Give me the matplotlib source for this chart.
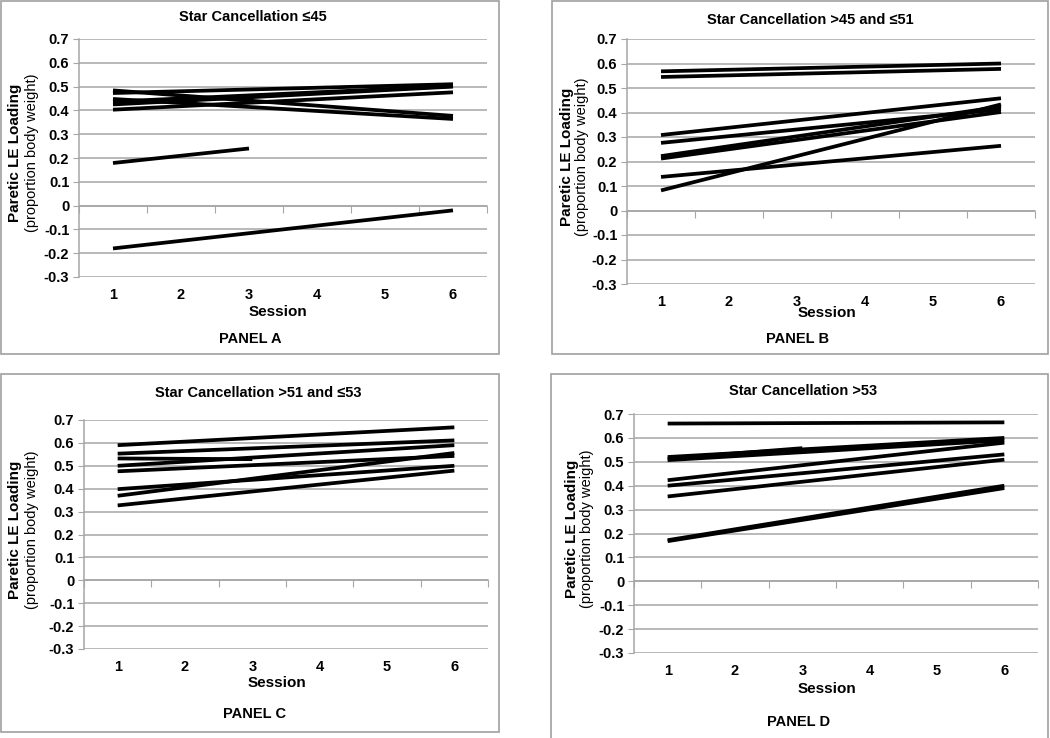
import matplotlib
matplotlib.use("Agg")
import matplotlib.pyplot as plt
from matplotlib.patches import Rectangle

plt.rcParams['font.family'] = ['Liberation Sans', 'DejaVu Sans']

W, H = 1050, 738

# ---- data: sessions and paretic LE loading per subject ----
sessions_full = [1, 6]
sessions_short = [1, 3]

panel_a_lines = [[0.484, 0.377], [0.448, 0.364], [0.473, 0.510], [0.437, 0.502],
                 [0.425, 0.500], [0.403, 0.476], [-0.180, -0.020]]
panel_a_short = [[0.179, 0.240]]

panel_b_lines = [[0.568, 0.600], [0.545, 0.578], [0.308, 0.458], [0.276, 0.413],
                 [0.222, 0.424], [0.212, 0.402], [0.137, 0.264], [0.082, 0.433]]
panel_b_short = []

panel_c_lines = [[0.590, 0.668], [0.553, 0.611], [0.500, 0.590], [0.476, 0.543],
                 [0.398, 0.500], [0.369, 0.556], [0.327, 0.479]]
panel_c_short = [[0.532, 0.529]]

panel_d_lines = [[0.660, 0.665], [0.520, 0.600], [0.507, 0.590], [0.423, 0.580],
                 [0.400, 0.531], [0.355, 0.509], [0.172, 0.400], [0.168, 0.390]]
panel_d_short = [[0.513, 0.557]]

titles = ["Star Cancellation \u226445", "Star Cancellation >45 and \u226451",
          "Star Cancellation >51 and \u226453", "Star Cancellation >53"]
panel_names = ["PANEL A", "PANEL B", "PANEL C", "PANEL D"]
y_ticks = [-0.3, -0.2, -0.1, 0, 0.1, 0.2, 0.3, 0.4, 0.5, 0.6, 0.7]
y_tick_labels = ["-0.3", "-0.2", "-0.1", "0", "0.1", "0.2", "0.3", "0.4", "0.5", "0.6", "0.7"]
x_ticks = [1, 2, 3, 4, 5, 6]

# ---- layout in pixels (left, top, right, bottom) ----
boxes = [(1, 1, 499, 354), (552, 1, 1048, 354), (1, 374, 499, 732), (551, 374, 1048, 740)]
axes_px = [(79, 39, 487, 277), (627, 39, 1035, 284), (84, 420, 488, 649), (634, 414, 1038, 653)]
title_xy = [(253, 17), (810, 20), (258, 393), (803, 391)]
session_xy = [(278, 312), (827, 313), (277, 683), (827, 689)]
panel_xy = [(250, 339), (798, 339), (255, 714), (799, 722)]
ylab_x = [(15, 32), (567, 582), (15, 32), (572, 587)]
all_lines = [panel_a_lines, panel_b_lines, panel_c_lines, panel_d_lines]
all_short = [panel_a_short, panel_b_short, panel_c_short, panel_d_short]

GRID = '#a6a6a6'
fig = plt.figure(figsize=(W / 100, H / 100), dpi=100)


def fx(px):
    return px / W


def fy(py):
    return 1 - py / H


for i in range(4):
    bl, bt, br, bb = boxes[i]
    fig.patches.append(Rectangle((fx(bl), fy(bb)), fx(br - bl), (bb - bt) / H,
                                 transform=fig.transFigure, fill=False,
                                 edgecolor='#a0a0a0', linewidth=1.2))

    l, t, r, b = axes_px[i]
    ax = fig.add_axes([fx(l), fy(b), fx(r - l), (b - t) / H])
    for ys in all_lines[i]:
        ax.plot(sessions_full, ys, color='black', lw=2.7, solid_capstyle='butt')
    for ys in all_short[i]:
        ax.plot(sessions_short, ys, color='black', lw=2.7, solid_capstyle='butt')

    ax.set_xlim(0.5, 6.5)
    ax.set_ylim(-0.3, 0.7)
    ax.set_yticks(y_ticks)
    ax.set_yticklabels(y_tick_labels, fontsize=10.5, fontweight='bold')
    ax.yaxis.grid(True, color=GRID, lw=1.1)
    ax.set_axisbelow(True)
    ax.tick_params(axis='y', length=4, color=GRID, pad=3)

    for s in ['top', 'right']:
        ax.spines[s].set_visible(False)
    ax.spines['left'].set_color(GRID)
    ax.spines['left'].set_linewidth(1.1)
    ax.spines['bottom'].set_position(('data', 0))
    ax.spines['bottom'].set_color(GRID)
    ax.spines['bottom'].set_linewidth(1.1)
    ax.set_xticks([0.5, 1.5, 2.5, 3.5, 4.5, 5.5, 6.5])
    ax.set_xticklabels([])
    ax.tick_params(axis='x', length=5, color=GRID, direction='out')

    sec = ax.secondary_xaxis(0.0)
    sec.set_xticks(x_ticks)
    sec.set_xticklabels([str(v) for v in x_ticks], fontsize=10.5, fontweight='bold')
    sec.tick_params(length=0, pad=8)
    sec.spines['bottom'].set_visible(False)

    fig.text(fx(title_xy[i][0]), fy(title_xy[i][1]), titles[i], ha='center', va='center',
             fontsize=10.5, fontweight='bold')
    fig.text(fx(session_xy[i][0]), fy(session_xy[i][1]), "Session",
             ha='center', va='center', fontsize=11, fontweight='bold')
    fig.text(fx(panel_xy[i][0]), fy(panel_xy[i][1]), panel_names[i], ha='center', va='center',
             fontsize=10.5, fontweight='bold')

    yc = fy((t + b) / 2 - 5)
    fig.text(fx(ylab_x[i][0]), yc, "Paretic LE Loading", rotation=90, ha='center',
             va='center', fontsize=11, fontweight='bold')
    fig.text(fx(ylab_x[i][1]), yc, "(proportion body weight)", rotation=90, ha='center',
             va='center', fontsize=10.5)

fig.savefig("out.png", dpi=100)
